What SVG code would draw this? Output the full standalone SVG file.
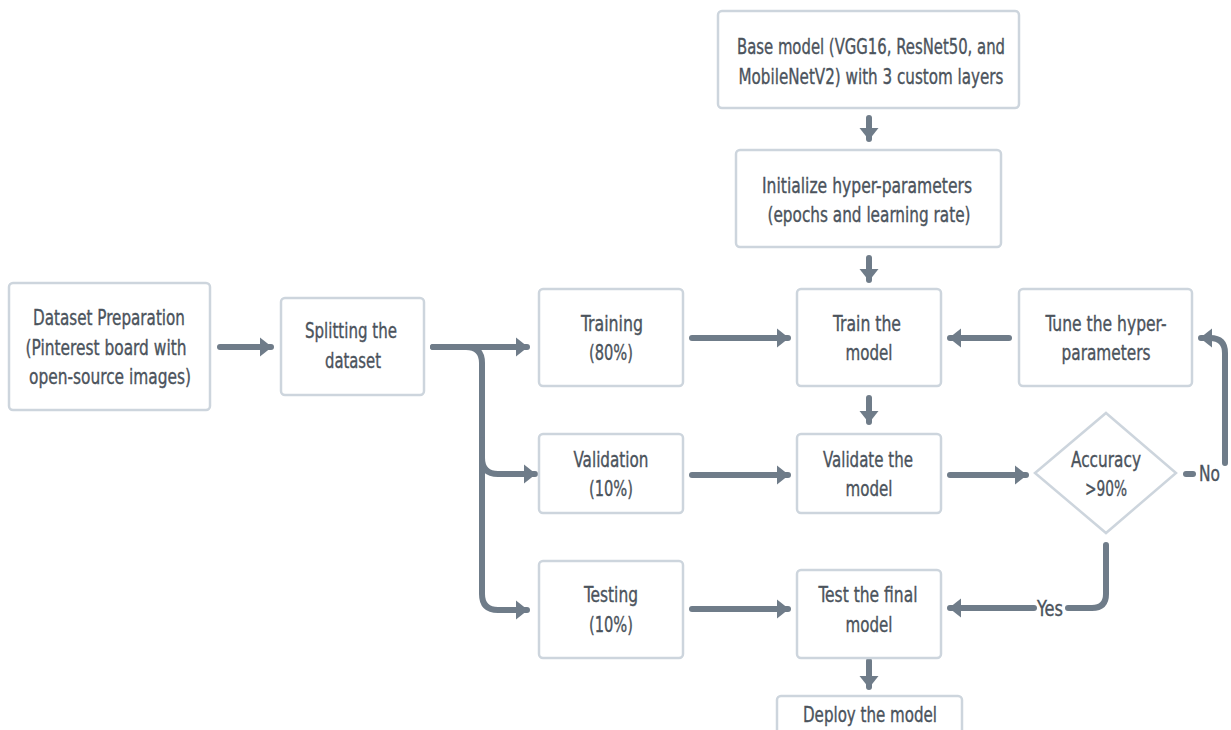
<svg xmlns="http://www.w3.org/2000/svg" width="1231" height="730" viewBox="0 0 1231 730">
<defs>
<marker id="ah" markerUnits="userSpaceOnUse" markerWidth="14" markerHeight="20" refX="11" refY="10" orient="auto">
<path d="M0,0.5 L12,10 L0,19.5 Z" fill="#6f7c89"/>
</marker>
<style>
.box{fill:#fff;stroke:#cdd5dd;stroke-width:2.5}
.t{font-family:"DejaVu Sans Condensed","DejaVu Sans",sans-serif;font-size:21px;fill:#4b535c;stroke:#4b535c;stroke-width:0.35;text-anchor:middle}
.c{fill:none;stroke:#6f7c89;stroke-width:6;stroke-linecap:round;stroke-linejoin:round}
.ca{fill:none;stroke:#6f7c89;stroke-width:6;stroke-linecap:round;marker-end:url(#ah)}
.lb{font-family:"DejaVu Sans Condensed","DejaVu Sans",sans-serif;font-size:21px;fill:#4b535c;stroke:#4b535c;stroke-width:0.35}
</style>
</defs>
<rect width="1231" height="730" fill="#fff"/>
<g id="connectors">
<line class="ca" x1="220" y1="347" x2="271" y2="347"/>
<path class="ca" d="M433,347 L527,347"/>
<path class="ca" d="M433,347 L466,347 Q482,347 482,363 L482,458 Q482,474 498,474 L535,474"/>
<path class="ca" d="M482,440 L482,594 Q482,610 498,610 L527,610"/>
<line class="ca" x1="692" y1="338" x2="788" y2="338"/>
<line class="ca" x1="692" y1="475" x2="788" y2="475"/>
<line class="ca" x1="692" y1="609" x2="788" y2="609"/>
<line class="ca" x1="950" y1="475" x2="1026" y2="475"/>
<line class="ca" x1="1009" y1="338" x2="950" y2="338"/>
<line class="ca" x1="869" y1="118" x2="869" y2="139"/>
<line class="ca" x1="869" y1="258" x2="869" y2="280"/>
<line class="ca" x1="869" y1="398" x2="869" y2="422"/>
<line class="ca" x1="869" y1="661" x2="869" y2="687"/>
<line class="c" x1="1186" y1="474" x2="1193" y2="474"/>
<path class="ca" d="M1225,463 L1225,353 Q1225,338 1210,338 L1201,338"/>
<path class="c" d="M1106,545 L1106,594 Q1106,608 1092,608 L1068,608"/>
<line class="ca" x1="1034" y1="608" x2="950" y2="608"/>
</g>
<g id="n-dataset"><rect class="box" x="9" y="283" width="201" height="127" rx="4"/>
<text class="t" x="109" y="325" textLength="152" lengthAdjust="spacingAndGlyphs">Dataset Preparation</text>
<text class="t" x="106" y="355" textLength="161" lengthAdjust="spacingAndGlyphs">(Pinterest board with</text>
<text class="t" x="110" y="384" textLength="162" lengthAdjust="spacingAndGlyphs">open-source images)</text></g>
<g id="n-split"><rect class="box" x="281" y="298" width="143" height="97" rx="4"/>
<text class="t" x="351" y="338" textLength="92" lengthAdjust="spacingAndGlyphs">Splitting the</text>
<text class="t" x="353" y="368" textLength="56" lengthAdjust="spacingAndGlyphs">dataset</text></g>
<g id="n-training"><rect class="box" x="539" y="289" width="144" height="97" rx="4"/>
<text class="t" x="612" y="331" textLength="62" lengthAdjust="spacingAndGlyphs">Training</text>
<text class="t" x="611" y="360" textLength="44" lengthAdjust="spacingAndGlyphs">(80%)</text></g>
<g id="n-validation"><rect class="box" x="539" y="434" width="144" height="79" rx="4"/>
<text class="t" x="611" y="467" textLength="75" lengthAdjust="spacingAndGlyphs">Validation</text>
<text class="t" x="611" y="496" textLength="44" lengthAdjust="spacingAndGlyphs">(10%)</text></g>
<g id="n-testing"><rect class="box" x="539" y="561" width="144" height="97" rx="4"/>
<text class="t" x="611" y="602" textLength="54" lengthAdjust="spacingAndGlyphs">Testing</text>
<text class="t" x="611" y="632" textLength="44" lengthAdjust="spacingAndGlyphs">(10%)</text></g>
<g id="n-base"><rect class="box" x="718" y="11" width="301" height="97" rx="4"/>
<text class="t" x="871" y="54" textLength="268" lengthAdjust="spacingAndGlyphs">Base model (VGG16, ResNet50, and</text>
<text class="t" x="871" y="84" textLength="265" lengthAdjust="spacingAndGlyphs">MobileNetV2) with 3 custom layers</text></g>
<g id="n-init"><rect class="box" x="736" y="150" width="265" height="97" rx="4"/>
<text class="t" x="867" y="193" textLength="210" lengthAdjust="spacingAndGlyphs">Initialize hyper-parameters</text>
<text class="t" x="869" y="222" textLength="203" lengthAdjust="spacingAndGlyphs">(epochs and learning rate)</text></g>
<g id="n-train"><rect class="box" x="797" y="289" width="144" height="97" rx="4"/>
<text class="t" x="867" y="331" textLength="68" lengthAdjust="spacingAndGlyphs">Train the</text>
<text class="t" x="869" y="360" textLength="47" lengthAdjust="spacingAndGlyphs">model</text></g>
<g id="n-validate"><rect class="box" x="797" y="434" width="144" height="79" rx="4"/>
<text class="t" x="868" y="467" textLength="90" lengthAdjust="spacingAndGlyphs">Validate the</text>
<text class="t" x="869" y="496" textLength="47" lengthAdjust="spacingAndGlyphs">model</text></g>
<g id="n-test"><rect class="box" x="797" y="570" width="144" height="88" rx="4"/>
<text class="t" x="868" y="602" textLength="99" lengthAdjust="spacingAndGlyphs">Test the final</text>
<text class="t" x="869" y="632" textLength="47" lengthAdjust="spacingAndGlyphs">model</text></g>
<g id="n-tune"><rect class="box" x="1019" y="289" width="173" height="97" rx="4"/>
<text class="t" x="1106" y="331" textLength="121" lengthAdjust="spacingAndGlyphs">Tune the hyper-</text>
<text class="t" x="1106" y="360" textLength="89" lengthAdjust="spacingAndGlyphs">parameters</text></g>
<g id="n-accuracy"><path class="box" d="M1106,413 L1176,473 L1106,533 L1035,473 Z"/>
<text class="t" x="1106" y="467" textLength="70" lengthAdjust="spacingAndGlyphs">Accuracy</text>
<text class="t" x="1106" y="496" textLength="42" lengthAdjust="spacingAndGlyphs">&gt;90%</text></g>
<g id="n-deploy"><rect class="box" x="777" y="696" width="185" height="50" rx="4"/>
<text class="t" x="870" y="722" textLength="134" lengthAdjust="spacingAndGlyphs">Deploy the model</text></g>
<text class="lb" x="1199" y="481" textLength="21" lengthAdjust="spacingAndGlyphs">No</text>
<text class="lb" x="1037" y="616" textLength="26" lengthAdjust="spacingAndGlyphs">Yes</text>
</svg>
